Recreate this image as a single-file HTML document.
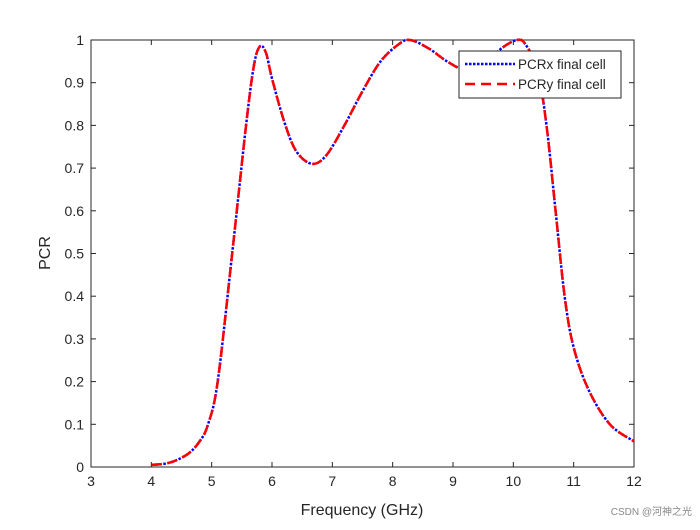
<!DOCTYPE html>
<html><head><meta charset="utf-8"><style>
body{margin:0;background:#fff}
svg{font-family:"Liberation Sans",sans-serif}
</style></head><body>
<svg width="700" height="525" viewBox="0 0 700 525">
<rect x="0" y="0" width="700" height="525" fill="#fff"/>
<g id="axes"></g>
<g id="curves"></g>
<g>
<rect x="459" y="51" width="162" height="47" fill="#fff" stroke="#262626" stroke-width="1"/>
<line x1="465" y1="64" x2="515" y2="64" stroke="#0000ff" stroke-width="2.5" stroke-dasharray="2.5,1.5"/>
<text x="518" y="69" font-size="13.5" fill="#262626">PCRx final cell</text>
<line x1="465" y1="84" x2="515" y2="84" stroke="#ff0000" stroke-width="2.5" stroke-dasharray="10,6"/>
<text x="518" y="89" font-size="13.5" fill="#262626">PCRy final cell</text>
</g>
<text x="362" y="515" font-size="16" text-anchor="middle" fill="#262626">Frequency (GHz)</text>
<text transform="translate(50,253) rotate(-90)" font-size="16" text-anchor="middle" fill="#262626">PCR</text>
<text x="692" y="515" font-size="10" text-anchor="end" fill="#888" font-family="Liberation Sans, Noto Sans CJK SC, sans-serif">CSDN @河神之光</text>
</svg>
<script>
const freqs=[4.0,4.3,4.6,4.8,4.94,5.1,5.34,5.57,5.7,5.8,5.9,6.0,6.2,6.4,6.66,6.9,7.2,7.5,7.8,8.1,8.29,8.6,8.9,9.2,9.5,9.8,10.06,10.2,10.4,10.55,10.7,10.85,11.0,11.25,11.6,12.0];
const pcrx=[0.005,0.01,0.03,0.06,0.1,0.2,0.5,0.8,0.94,0.985,0.97,0.91,0.81,0.74,0.71,0.73,0.80,0.88,0.95,0.99,1.0,0.98,0.95,0.93,0.94,0.98,1.0,0.99,0.93,0.8,0.6,0.4,0.28,0.18,0.1,0.06];
const pcry=pcrx.slice();
const xTicks=[3,4,5,6,7,8,9,10,11,12];
const yTicks=[0,0.1,0.2,0.3,0.4,0.5,0.6,0.7,0.8,0.9,1];
const X0=91,X1=634,Y0=467,Y1=40;
const sx=f=>X0+(f-3)/9*(X1-X0);
const sy=v=>Y0-v*(Y0-Y1);
const NS="http://www.w3.org/2000/svg";
const ax=document.getElementById('axes');
function mk(tag,attrs,parent){const e=document.createElementNS(NS,tag);for(const k in attrs)e.setAttribute(k,attrs[k]);parent.appendChild(e);return e;}
const box=mk('rect',{x:X0,y:Y1,width:X1-X0,height:Y0-Y1,fill:'#fff',stroke:'#262626','stroke-width':1},ax);


xTicks.forEach(t=>{const x=sx(t);
mk('line',{x1:x,y1:Y0,x2:x,y2:Y0-5,stroke:'#262626'},ax);
mk('line',{x1:x,y1:Y1,x2:x,y2:Y1+5,stroke:'#262626'},ax);
const tx=mk('text',{x:x,y:Y0+19,'font-size':14,'text-anchor':'middle',fill:'#262626'},ax);tx.textContent=t;

});
yTicks.forEach(t=>{const y=sy(t);
mk('line',{x1:X0,y1:y,x2:X0+5,y2:y,stroke:'#262626'},ax);
mk('line',{x1:X1,y1:y,x2:X1-5,y2:y,stroke:'#262626'},ax);
const tx=mk('text',{x:X0-7,y:y+5,'font-size':14,'text-anchor':'end',fill:'#262626'},ax);tx.textContent=t;

});
function pathD(xs,ys){const p=xs.map((f,i)=>[sx(f),sy(ys[i])]);let d='M'+p[0][0]+','+p[0][1];
for(let i=0;i<p.length-1;i++){const a=p[Math.max(i-1,0)],b=p[i],c=p[i+1],e=p[Math.min(i+2,p.length-1)];
d+=' C'+(b[0]+(c[0]-a[0])/6)+','+(b[1]+(c[1]-a[1])/6)+' '+(c[0]-(e[0]-b[0])/6)+','+(c[1]-(e[1]-b[1])/6)+' '+c[0]+','+c[1];}return d;}
const cg=document.getElementById('curves');
const lx=mk('path',{d:pathD(freqs,pcrx),fill:'none',stroke:'#0000ff','stroke-width':2.5,'stroke-dasharray':'2.5,1.5'},cg);


const ly=mk('path',{d:pathD(freqs,pcry),fill:'none',stroke:'#ff0000','stroke-width':2.5,'stroke-dasharray':'10,6'},cg);


</script>
</body></html>
